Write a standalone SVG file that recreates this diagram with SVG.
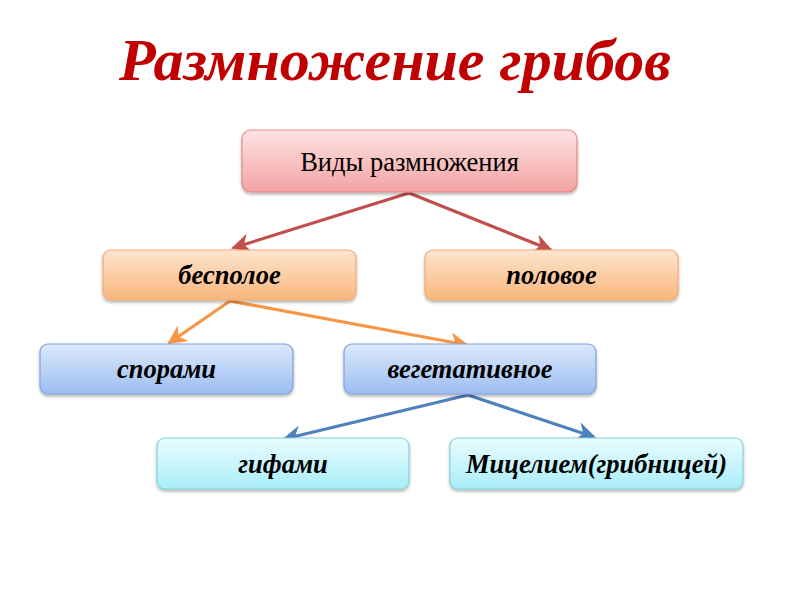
<svg xmlns="http://www.w3.org/2000/svg" width="800" height="600" viewBox="0 0 800 600">
<defs>
<style>
.box{stroke-width:1.2;filter:url(#sh)}
.t{font-family:"Liberation Serif","Times New Roman",serif;font-size:26.5px;text-anchor:middle;fill:#000}
.bi{font-weight:bold;font-style:italic}
.ln{fill:none;stroke-width:3.2}
</style>
<filter id="sh" x="-10%" y="-20%" width="120%" height="150%">
<feDropShadow dx="0" dy="2" stdDeviation="1.5" flood-color="#000" flood-opacity="0.3"/>
</filter>
<linearGradient id="gr" x1="0" y1="0" x2="0" y2="1"><stop offset="0" stop-color="#fde3e3"/><stop offset="1" stop-color="#f4a3a3"/></linearGradient>
<linearGradient id="go" x1="0" y1="0" x2="0" y2="1"><stop offset="0" stop-color="#fee5d0"/><stop offset="1" stop-color="#f9b67c"/></linearGradient>
<linearGradient id="gb" x1="0" y1="0" x2="0" y2="1"><stop offset="0" stop-color="#dce8fb"/><stop offset="1" stop-color="#9cbef2"/></linearGradient>
<linearGradient id="gc" x1="0" y1="0" x2="0" y2="1"><stop offset="0" stop-color="#eafcfe"/><stop offset="1" stop-color="#a9eef9"/></linearGradient>
<marker id="ar" viewBox="0 0 10 10" refX="9" refY="5" markerWidth="6" markerHeight="6" orient="auto" markerUnits="strokeWidth"><path d="M0,0 L10,5 L0,10 L3,5 Z" fill="#c0504d"/></marker>
<marker id="ao" viewBox="0 0 10 10" refX="9" refY="5" markerWidth="6" markerHeight="6" orient="auto" markerUnits="strokeWidth"><path d="M0,0 L10,5 L0,10 L3,5 Z" fill="#f79646"/></marker>
<marker id="ab" viewBox="0 0 10 10" refX="9" refY="5" markerWidth="6" markerHeight="6" orient="auto" markerUnits="strokeWidth"><path d="M0,0 L10,5 L0,10 L3,5 Z" fill="#4f81bd"/></marker>
</defs>
<rect width="800" height="600" fill="#fff"/>
<text x="395" y="80" font-family="Liberation Serif,'Times New Roman',serif" font-size="60" font-weight="bold" font-style="italic" fill="#c00000" text-anchor="middle">Размножение грибов</text>
<g id="connectors">
<path class="ln" stroke="#c0504d" marker-end="url(#ar)" d="M409,193 L233,248"/>
<path class="ln" stroke="#c0504d" marker-end="url(#ar)" d="M409,193 L551,250"/>
<path class="ln" stroke="#f79646" marker-end="url(#ao)" d="M230,301 L169,343"/>
<path class="ln" stroke="#f79646" marker-end="url(#ao)" d="M230,301 L467,345"/>
<path class="ln" stroke="#4f81bd" marker-end="url(#ab)" d="M468,395 L284,439"/>
<path class="ln" stroke="#4f81bd" marker-end="url(#ab)" d="M468,395 L594,437"/>
</g>
<g id="n1"><rect class="box" x="242" y="130" width="335" height="62" rx="9" fill="url(#gr)" stroke="#e58a8a"/><text class="t" x="409.5" y="171" font-size="27">Виды размножения</text></g>
<g id="n2"><rect class="box" x="103" y="250" width="253" height="50" rx="8" fill="url(#go)" stroke="#f3ab72"/><text class="t bi" x="229.5" y="284">бесполое</text></g>
<g id="n3"><rect class="box" x="425" y="250" width="253" height="50" rx="8" fill="url(#go)" stroke="#f3ab72"/><text class="t bi" x="551.5" y="284">половое</text></g>
<g id="n4"><rect class="box" x="40" y="344" width="253" height="50" rx="8" fill="url(#gb)" stroke="#7fa3d8"/><text class="t bi" x="166.5" y="378">спорами</text></g>
<g id="n5"><rect class="box" x="344" y="344" width="252" height="50" rx="8" fill="url(#gb)" stroke="#7fa3d8"/><text class="t bi" x="470" y="378">вегетативное</text></g>
<g id="n6"><rect class="box" x="157" y="438" width="252" height="51" rx="8" fill="url(#gc)" stroke="#86d2df"/><text class="t bi" x="283" y="473">гифами</text></g>
<g id="n7"><rect class="box" x="450" y="438" width="293" height="51" rx="8" fill="url(#gc)" stroke="#86d2df"/><text class="t bi" x="596.5" y="473">Мицелием(грибницей)</text></g>
</svg>
